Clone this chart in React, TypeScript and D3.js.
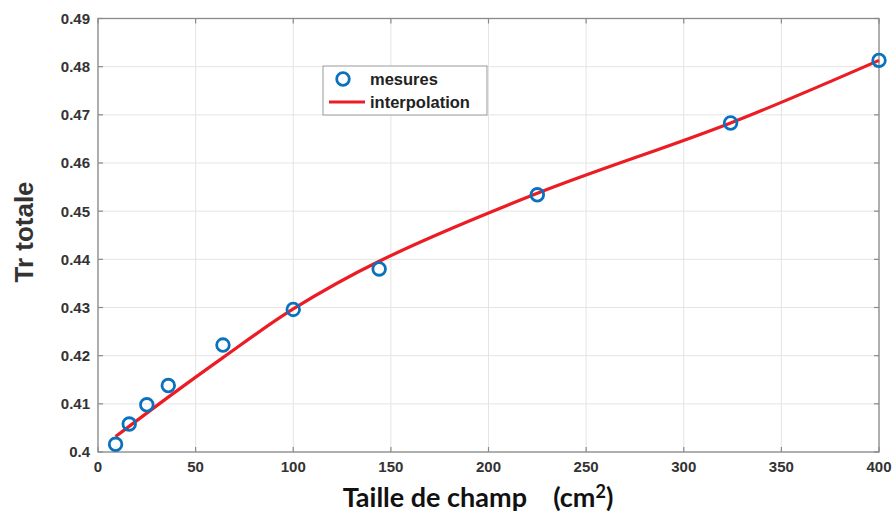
import React from "react";
import * as d3 from "d3";

const fieldSizes = [9, 16, 25, 36, 64, 100, 144, 225, 324, 400];
const measures = [0.4016, 0.4058, 0.4098, 0.4138, 0.4222, 0.4296, 0.438, 0.4534, 0.4683, 0.4813];
const fitX = [9, 36, 64, 100, 144, 225, 324, 400];
const fitY = [0.4032, 0.4114, 0.4196, 0.4297, 0.4396, 0.4537, 0.4683, 0.4813];
const xTicks = [0, 50, 100, 150, 200, 250, 300, 350, 400];
const yTicks = [0.4, 0.41, 0.42, 0.43, 0.44, 0.45, 0.46, 0.47, 0.48, 0.49];

const W = 893, H = 515;
const M = { left: 98, right: 879, top: 18.5, bottom: 452 };

export default function App() {
  const x = d3.scaleLinear().domain([0, 400]).range([M.left, M.right]);
  const y = d3.scaleLinear().domain([0.4, 0.49]).range([M.bottom, M.top]);
  const line = d3
    .line<number>()
    .x((_, i) => x(fitX[i]))
    .y((d) => y(d))
    .curve(d3.curveCatmullRom.alpha(0.5));
  const tickFont = "Liberation Sans, Arial, sans-serif";
  const tickColor = "#333";
  const axisColor = "#8a8a8a";
  const gridColor = "#e4e4e4";
  const blue = "#0a72bd";
  const red = "#ec1c24";
  const tl = 5;
  return (
    <div style={{ position: "absolute", left: 0, top: 0 }}>
      <svg width={W} height={H} style={{ display: "block", background: "#fff" }}>
        {xTicks.map((t) => (
          <line key={"gx" + t} x1={x(t)} x2={x(t)} y1={M.top} y2={M.bottom} stroke={gridColor} strokeWidth={1} />
        ))}
        {yTicks.map((t) => (
          <line key={"gy" + t} x1={M.left} x2={M.right} y1={y(t)} y2={y(t)} stroke={gridColor} strokeWidth={1} />
        ))}
        <rect x={M.left} y={M.top} width={M.right - M.left} height={M.bottom - M.top} fill="none" stroke={axisColor} strokeWidth={1.3} />
        {xTicks.map((t) => (
          <g key={"tx" + t}>
            <line x1={x(t)} x2={x(t)} y1={M.bottom} y2={M.bottom - tl} stroke={axisColor} strokeWidth={1.2} />
            <line x1={x(t)} x2={x(t)} y1={M.top} y2={M.top + tl} stroke={axisColor} strokeWidth={1.2} />
            <text x={x(t)} y={M.bottom + 20} textAnchor="middle" fontFamily={tickFont} fontWeight="bold" fontSize={15} fill={tickColor}>
              {t}
            </text>
          </g>
        ))}
        {yTicks.map((t) => (
          <g key={"ty" + t}>
            <line x1={M.left} x2={M.left + tl} y1={y(t)} y2={y(t)} stroke={axisColor} strokeWidth={1.2} />
            <line x1={M.right} x2={M.right - tl} y1={y(t)} y2={y(t)} stroke={axisColor} strokeWidth={1.2} />
            <text x={M.left - 8} y={y(t)} dy="0.36em" textAnchor="end" fontFamily={tickFont} fontWeight="bold" fontSize={15} fill={tickColor}>
              {String(+t.toFixed(2))}
            </text>
          </g>
        ))}
        <path d={line(fitY) || ""} fill="none" stroke={red} strokeWidth={3.2} />
        {measures.map((v, i) => (
          <circle key={"m" + i} cx={x(fieldSizes[i])} cy={y(v)} r={6.3} fill="none" stroke={blue} strokeWidth={2.8} />
        ))}
        <rect x={323} y={66} width={164} height={49} fill="#fff" stroke="#999" strokeWidth={1} />
        <circle cx={343} cy={79} r={6.3} fill="none" stroke={blue} strokeWidth={2.8} />
        <line x1={329} x2={365} y1={102} y2={102} stroke={red} strokeWidth={3.2} />
        <text x={370} y={85} fontFamily={tickFont} fontWeight="bold" fontSize={16.5} fill="#222">mesures</text>
        <text x={370} y={107.5} fontFamily={tickFont} fontWeight="bold" fontSize={16.5} fill="#222">interpolation</text>
        <text transform={`translate(33,${232}) rotate(-90)`} textAnchor="middle" fontFamily={tickFont} fontWeight="bold" fontSize={26} fill="#333">
          Tr totale
        </text>
        <text x={478} y={507} textAnchor="middle" fontFamily="Lato, 'Open Sans', sans-serif" fontWeight="bold" fontSize={27} fill="#111" style={{ whiteSpace: "pre" }}>
          {"Taille de champ    (cm"}
          <tspan fontSize={18} dy={-9}>2</tspan>
          <tspan dy={9}>)</tspan>
        </text>
      </svg>
    </div>
  );
}
